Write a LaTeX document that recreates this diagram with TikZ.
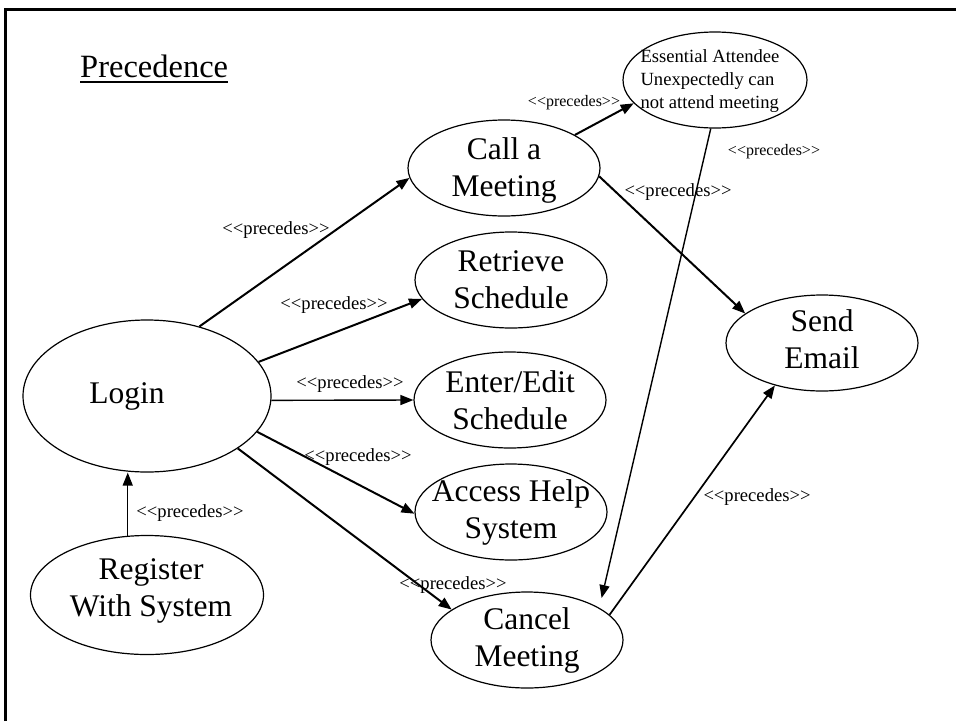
\documentclass[tikz,border=0pt]{standalone}
\usepackage{fontspec}
\setmainfont{Liberation Serif}
\usetikzlibrary{shapes.geometric,arrows.meta}
% plain angle brackets (a kern stops the << ligature mapping)
\newcommand\ltlt{<\kern0pt<}
\newcommand\gtgt{>\kern0pt>}
\newcommand\precedesword{\ltlt precedes\gtgt}
\begin{document}
\begin{tikzpicture}[x=1pt,y=-1pt,
  uc/.style={draw, ellipse, line width=1.2pt, inner sep=0pt,
             minimum width=192pt, minimum height=96pt},
  uctext/.style={align=center, inner sep=0pt,
                 font=\fontsize{31.5}{37}\selectfont},
  rel/.style={-{Triangle[length=13pt,width=10pt]}, line width=2pt},
  thinrel/.style={rel, line width=1.4pt},
  tag/.style={font=\fontsize{18.6}{20}\selectfont, inner sep=0pt},
  smalltag/.style={font=\fontsize{16}{18}\selectfont, inner sep=0pt}]
\useasboundingbox (0,0) rectangle (956,721);

% frame
\draw[line width=3pt] (5.5,721) -- (5.5,9.5) -- (956,9.5);

% title
\node[anchor=base west, inner sep=0pt, font=\fontsize{32.5}{36}\selectfont]
  (title) at (80,77) {Precedence};
\draw[line width=1.8pt] ([yshift=-5pt]title.base west) -- ([yshift=-5pt]title.base east);

% use cases
\node[uc, minimum width=248pt, minimum height=152pt,
      label={[uctext, xshift=-20pt]center:Login}] (login) at (147,396) {};
\node[uc, minimum width=233pt, minimum height=119pt,
      label={[uctext, xshift=4pt, yshift=4pt]center:Register\\With System}] (reg) at (147,595) {};
\node[uc, label={[uctext, yshift=-2pt]center:Call a\\Meeting}] (call) at (504,168) {};
\node[uc, label={[uctext]center:Retrieve\\Schedule}] (retr) at (511,280) {};
\node[uc, label={[uctext]center:Enter/Edit\\Schedule}] (edit) at (510,400) {};
\node[uc, label={[uctext]center:Access Help\\System}] (help) at (511,512) {};
\node[uc, label={[uctext]center:Cancel\\Meeting}] (cancel) at (527,640) {};
\node[uc, label={[uctext, yshift=4pt]center:Send\\Email}] (send) at (822,343) {};
\node[uc, minimum width=184pt, minimum height=96pt] (ess) at (715,80) {};
\node[align=left, inner sep=0pt, font=\fontsize{18.6}{23}\selectfont]
  (esstext) at (710,81) {Essential Attendee\\Unexpectedly can\\not attend meeting};

% precedence relations
\draw[rel] (login.53) -- (call.186);
\draw[rel] (login.17) -- (retr.192);
\draw[thinrel] (login.-2) -- (edit.west);
\draw[rel] (login.-18) -- (help.181);
\draw[rel] (login.-30) -- (cancel.158);
\draw[thinrel] (reg.108) -- (reg.108 |- login.south);
\draw[rel] (call.25) -- (ess.196);
\draw[rel] (call.-5) -- (send.159);
\draw[thinrel, shorten >=10pt] (ess.265) -- (cancel.24);
\draw[rel, line width=1.7pt] (cancel.17) -- (send.222);

% relation labels
\node[tag] (l1) at (276,230) {\precedesword};
\node[tag] (l2) at (334,305) {\precedesword};
\node[tag] (l3) at (350,384) {\precedesword};
\node[tag] (l4) at (358,457) {\precedesword};
\node[tag] (l5) at (453,585) {\precedesword};
\node[tag] (l6) at (190,513) {\precedesword};
\node[smalltag] (l7) at (574,103) {\precedesword};
\node[tag] (l8) at (678,192) {\precedesword};
\node[smalltag] (l9) at (774,152) {\precedesword};
\node[tag] (l10) at (757,497) {\precedesword};
\end{tikzpicture}
\end{document}
